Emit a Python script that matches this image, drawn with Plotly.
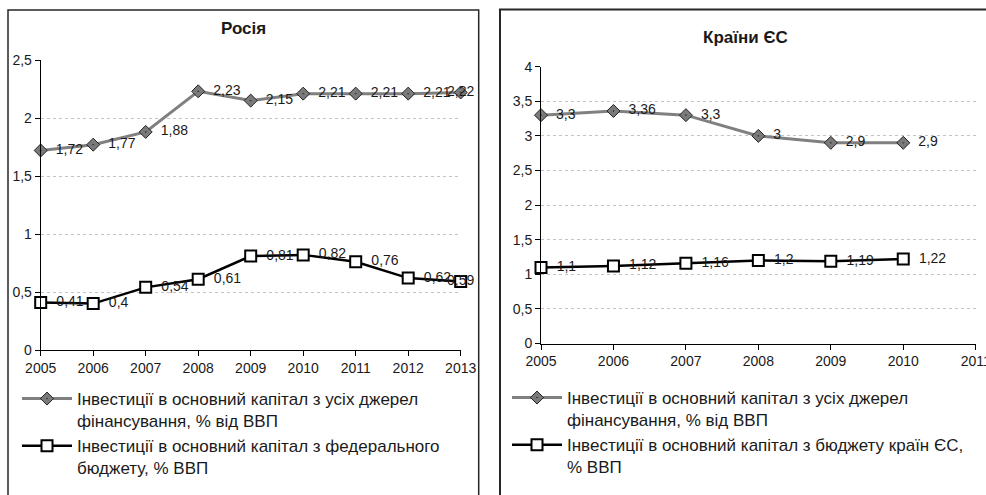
import plotly.graph_objects as go

# ---- data -------------------------------------------------------------
years_ru = [2005, 2006, 2007, 2008, 2009, 2010, 2011, 2012, 2013]
ru_total = [1.72, 1.77, 1.88, 2.23, 2.15, 2.21, 2.21, 2.21, 2.22]
ru_federal = [0.41, 0.4, 0.54, 0.61, 0.81, 0.82, 0.76, 0.62, 0.59]

years_eu = [2005, 2006, 2007, 2008, 2009, 2010]
eu_total = [3.3, 3.36, 3.3, 3.0, 2.9, 2.9]
eu_budget = [1.1, 1.12, 1.16, 1.2, 1.19, 1.22]

title_ru = "Росія"
title_eu = "Країни ЄС"
name_total = "Інвестиції в основний капітал з усіх джерел<br>фінансування, % від ВВП"
name_ru_fed = "Інвестиції в основний капітал з федерального<br>бюджету, % ВВП"
name_eu_bud = "Інвестиції в основний капітал з бюджету країн ЄС,<br>% ВВП"

# ---- helpers ----------------------------------------------------------
W, H = 986, 495
FONT = "Liberation Sans, Arial, sans-serif"
INK = "#1a1a1a"


def px(x):
    return x / W


def py(y):
    return 1 - y / H


def fmt(v):
    return f"{v:g}".replace(".", ",")


def labels(vals, last_center):
    out = ["  " + fmt(v) for v in vals]
    if last_center:
        out[-1] = fmt(vals[-1])
    return out


def positions(n, last_center):
    pos = ["middle right"] * n
    if last_center:
        pos[-1] = "middle center"
    return pos


def total_trace(x, y, xa, ya, legend, last_center=False):
    return go.Scatter(
        x=x, y=y, xaxis=xa, yaxis=ya, legend=legend, name=name_total,
        mode="lines+markers+text",
        line=dict(color="#808080", width=3),
        marker=dict(symbol="diamond-dot", size=10, color="#7a7a7a",
                    line=dict(color="#222222", width=1)),
        text=labels(y, last_center),
        textposition=positions(len(y), last_center),
        textfont=dict(family=FONT, size=14, color=INK),
        cliponaxis=False, hoverinfo="x+y",
    )


def budget_trace(x, y, xa, ya, legend, name, last_center=False):
    return go.Scatter(
        x=x, y=y, xaxis=xa, yaxis=ya, legend=legend, name=name,
        mode="lines+markers+text",
        line=dict(color="#000000", width=2.5),
        marker=dict(symbol="square", size=11, color="#ffffff",
                    line=dict(color="#000000", width=2)),
        text=labels(y, last_center),
        textposition=positions(len(y), last_center),
        textfont=dict(family=FONT, size=14, color=INK),
        cliponaxis=False, hoverinfo="x+y",
    )


fig = go.Figure()
fig.add_trace(total_trace(years_ru, ru_total, "x", "y", "legend", last_center=True))
fig.add_trace(budget_trace(years_ru, ru_federal, "x", "y", "legend", name_ru_fed, last_center=True))
fig.add_trace(total_trace(years_eu, eu_total, "x2", "y2", "legend2"))
fig.add_trace(budget_trace(years_eu, eu_budget, "x2", "y2", "legend2", name_eu_bud))

tickfont = dict(family=FONT, size=14, color=INK)
xcommon = dict(showgrid=False, zeroline=False, showline=True, linecolor="#000000",
               linewidth=1, ticks="outside", ticklen=5, tickcolor="#000000",
               tickmode="linear", dtick=1, tickfont=tickfont, fixedrange=True,
               automargin=False, ticklabeloverflow="allow")
ycommon = dict(showgrid=True, gridcolor="#c4c4c4", griddash="dot", gridwidth=1,
               zeroline=False, showline=True, linecolor="#000000", linewidth=1,
               ticks="outside", ticklen=5, tickcolor="#000000", tickmode="linear",
               dtick=0.5, tickfont=tickfont, fixedrange=True, automargin=False)

legend_style = dict(font=dict(family=FONT, size=17, color=INK), bgcolor="rgba(0,0,0,0)",
                    borderwidth=0, xanchor="left", yanchor="top", valign="top",
                    tracegroupgap=0, itemwidth=50, itemclick=False, itemdoubleclick=False)

fig.update_layout(
    width=W, height=H,
    margin=dict(l=0, r=0, t=0, b=0, autoexpand=False),
    paper_bgcolor="#ffffff", plot_bgcolor="#ffffff",
    separators=", ",
    showlegend=True,
    xaxis=dict(xcommon, domain=[px(40.7), px(460.7)], range=[2005, 2013], anchor="y", tick0=2005),
    yaxis=dict(ycommon, domain=[py(350), py(60)], range=[0, 2.5], anchor="x"),
    xaxis2=dict(xcommon, domain=[px(541), px(975.7)], range=[2005, 2011], anchor="y2", tick0=2005),
    yaxis2=dict(ycommon, domain=[py(343.5), py(66.7)], range=[0, 4], anchor="x2"),
    legend=dict(legend_style, x=px(17), y=py(381)),
    legend2=dict(legend_style, x=px(507), y=py(380)),
    annotations=[
        dict(text=f"<b>{title_ru}</b>", x=px(243), y=py(28), xref="paper", yref="paper",
             xanchor="center", yanchor="middle", showarrow=False,
             font=dict(family=FONT, size=17, color=INK)),
        dict(text=f"<b>{title_eu}</b>", x=px(745), y=py(37), xref="paper", yref="paper",
             xanchor="center", yanchor="middle", showarrow=False,
             font=dict(family=FONT, size=17, color=INK)),
    ],
    shapes=[
        dict(type="rect", xref="paper", yref="paper", x0=px(8), x1=px(478.7),
             y0=py(520), y1=py(10), line=dict(color="#262626", width=1.5), layer="below"),
        dict(type="rect", xref="paper", yref="paper", x0=px(500), x1=px(1010),
             y0=py(520), y1=py(9.5), line=dict(color="#262626", width=2), layer="below"),
    ],
)

fig.write_html("out.html")
